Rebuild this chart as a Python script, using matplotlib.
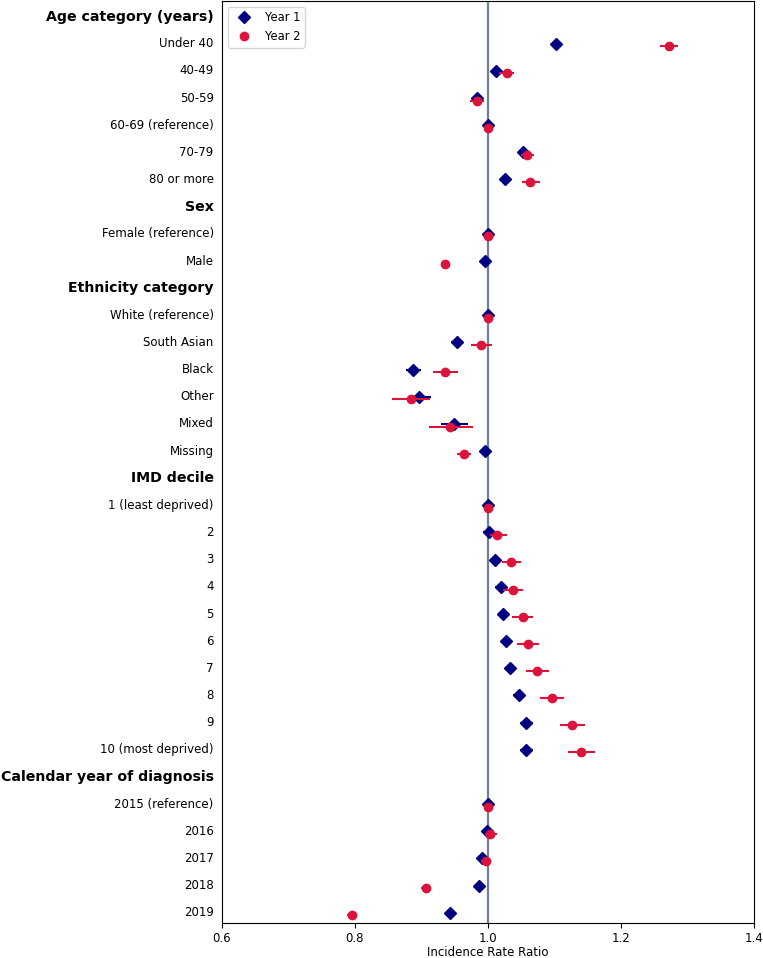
import matplotlib
matplotlib.use("Agg")
import matplotlib.pyplot as plt
import numpy as np

nan = np.nan

# Row labels (headers are drawn bold)
labels = [
    "Age category (years)", "Under 40", "40-49", "50-59", "60-69 (reference)", "70-79", "80 or more",
    "Sex", "Female (reference)", "Male",
    "Ethnicity category", "White (reference)", "South Asian", "Black", "Other", "Mixed", "Missing",
    "IMD decile", "1 (least deprived)", "2", "3", "4", "5", "6", "7", "8", "9", "10 (most deprived)",
    "Calendar year of diagnosis", "2015 (reference)", "2016", "2017", "2018", "2019",
]
headers = ["Age category (years)", "Sex", "Ethnicity category", "IMD decile", "Calendar year of diagnosis"]

# Year 1 incidence rate ratios with confidence limits
y1_irr = [nan, 1.103, 1.012, 0.983, 1.0, 1.052, 1.026,
          nan, 1.0, 0.995,
          nan, 1.0, 0.953, 0.887, 0.896, 0.949, 0.995,
          nan, 1.0, 1.001, 1.011, 1.019, 1.023, 1.027, 1.033, 1.046, 1.058, 1.058,
          nan, 1.0, 0.998, 0.991, 0.986, 0.943]
y1_lo = [nan, 1.098, 1.007, 0.978, 1.0, 1.047, 1.021,
         nan, 1.0, 0.993,
         nan, 1.0, 0.945, 0.876, 0.880, 0.929, 0.991,
         nan, 1.0, 0.993, 1.003, 1.011, 1.015, 1.019, 1.025, 1.037, 1.048, 1.048,
         nan, 1.0, 0.994, 0.987, 0.982, 0.939]
y1_hi = [nan, 1.108, 1.017, 0.988, 1.0, 1.057, 1.031,
         nan, 1.0, 0.997,
         nan, 1.0, 0.962, 0.899, 0.914, 0.970, 0.999,
         nan, 1.0, 1.009, 1.019, 1.027, 1.031, 1.035, 1.041, 1.055, 1.068, 1.068,
         nan, 1.0, 1.002, 0.995, 0.990, 0.947]

# Year 2 incidence rate ratios with confidence limits
y2_irr = [nan, 1.272, 1.028, 0.983, 1.0, 1.059, 1.064,
          nan, 1.0, 0.935,
          nan, 1.0, 0.989, 0.936, 0.884, 0.943, 0.964,
          nan, 1.0, 1.013, 1.034, 1.037, 1.052, 1.060, 1.074, 1.096, 1.127, 1.140,
          nan, 1.0, 1.003, 0.997, 0.907, 0.795]
y2_lo = [nan, 1.259, 1.017, 0.973, 1.0, 1.050, 1.051,
         nan, 1.0, 0.932,
         nan, 1.0, 0.974, 0.917, 0.856, 0.911, 0.954,
         nan, 1.0, 1.003, 1.021, 1.022, 1.036, 1.043, 1.057, 1.079, 1.109, 1.121,
         nan, 1.0, 0.996, 0.989, 0.900, 0.788]
y2_hi = [nan, 1.286, 1.039, 0.994, 1.0, 1.070, 1.078,
         nan, 1.0, 0.938,
         nan, 1.0, 1.006, 0.955, 0.913, 0.977, 0.975,
         nan, 1.0, 1.028, 1.049, 1.053, 1.068, 1.077, 1.092, 1.114, 1.146, 1.161,
         nan, 1.0, 1.013, 1.005, 0.914, 0.802]

y1_irr, y1_lo, y1_hi = map(np.array, (y1_irr, y1_lo, y1_hi))
y2_irr, y2_lo, y2_hi = map(np.array, (y2_irr, y2_lo, y2_hi))
rows = np.arange(len(labels))

fig = plt.figure(figsize=(7.63, 9.58), dpi=100)
ax = fig.add_axes([0.291, 0.0365, 0.697, 0.9625])

ax.axvline(1.0, color="#6f7f95", lw=1.6, zorder=1)

# Year 1
ax.errorbar(y1_irr, rows + 0.05, xerr=[y1_irr - y1_lo, y1_hi - y1_irr],
            fmt="none", ecolor="navy", elinewidth=1.5, zorder=2)
ax.plot(y1_irr, rows + 0.05, "D", color="navy", markersize=5.8, label="Year 1", zorder=3)

# Year 2
ax.errorbar(y2_irr, rows + 0.15, xerr=[y2_irr - y2_lo, y2_hi - y2_irr],
            fmt="none", ecolor="crimson", elinewidth=1.5, zorder=4)
ax.plot(y2_irr, rows + 0.15, "o", color="crimson", markersize=6, label="Year 2", zorder=5)

ax.set_yticks(rows)
ax.set_yticklabels(labels, fontsize=8.5)
for tl in ax.get_yticklabels():
    if tl.get_text() in headers:
        tl.set_fontweight("bold")
        tl.set_fontsize(10.2)
ax.tick_params(axis="y", length=0, pad=6)
ax.tick_params(axis="x", labelsize=8.5, pad=3)

ax.set_xlim(0.6, 1.4)
ax.set_xticks([0.6, 0.8, 1.0, 1.2, 1.4])
ax.set_ylim(33.43, -0.52)
ax.set_xlabel("Incidence Rate Ratio", fontsize=8.5, labelpad=1)
ax.legend(loc="upper left", fontsize=8.3)

plt.savefig("out.png", dpi=100)
